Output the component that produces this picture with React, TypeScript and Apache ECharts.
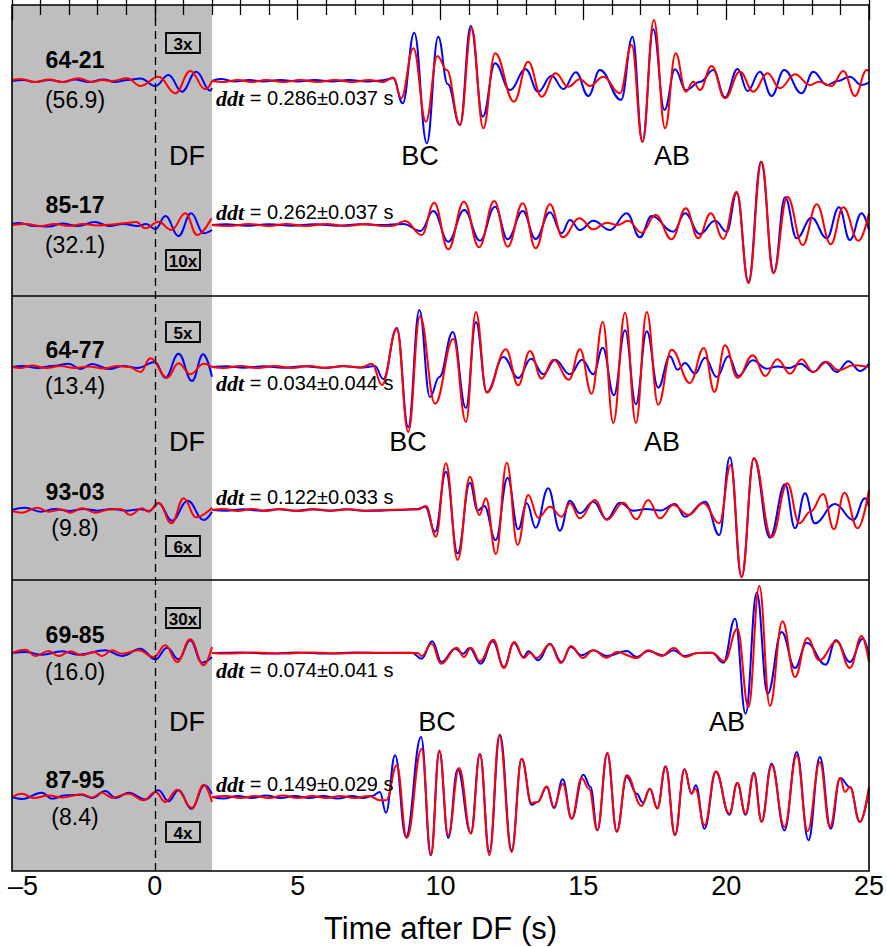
import React, { useEffect, useRef } from 'react';
import * as echarts from 'echarts';

// ---------- labels ----------
const traceNames = ['64-21', '85-17', '64-77', '93-03', '69-85', '87-95'];
const traceDistances = ['(56.9)', '(32.1)', '(13.4)', '(9.8)', '(16.0)', '(8.4)'];
const gains = ['3x', '10x', '5x', '6x', '30x', '4x'];
const ddtValues = ['0.286±0.037', '0.262±0.037', '0.034±0.044', '0.122±0.033', '0.074±0.041', '0.149±0.029'];
const phaseLabels = ['DF', 'BC', 'AB'];
const xAxisTitle = 'Time after DF (s)';

// ---------- waveforms: [time (s), amplitude (px, up positive)] ----------
// trace 1: 64-21
const t1DfBlue = [[-5, 0], [-4.6, 1], [-4.2, -1], [-3.7, 1], [-3.2, -1], [-2.8, 1.5], [-2.3, -1], [-1.8, 1.5], [-1.4, -1], [-0.95, 1], [-0.5, 2.5], [0.02, -5], [0.48, 6], [0.95, -10.7], [1.45, 9.3], [1.94, -9.7], [2.0, -7]];
const t1DfRed = [[-5, 1], [-4.7, 2], [-4.2, -1], [-3.7, 1.5], [-3.25, -1], [-2.67, 2.7], [-2.2, -1], [-1.85, 1], [-1.5, 0], [-0.97, 2.7], [-0.5, -5], [0.13, 4.3], [0.72, -12.3], [1.24, 10], [1.77, -8.3], [2.0, 0]];
const t1Blue = [[2.0, 0], [2.3, 2], [2.8, -0.5], [3.3, 1], [3.8, -0.5], [4.4, 1], [5, -0.5], [5.6, 1], [6.2, -0.5], [6.8, 1], [7.4, -0.5], [7.9, 0.5], [8.35, 2.7], [8.675, -22.3], [9.08, 48.3], [9.52, -62.3], [9.92, 44.3], [10.25, -3], [10.68, -44], [11.06, 55], [11.48, -35.7], [11.91, 17.7], [12.43, -9], [12.98, 11.7], [13.42, -10.7], [13.89, 5.3], [14.3, -8], [14.74, 8.7], [15.175, -15], [15.58, 11], [16.32, -19], [16.72, 44.3], [17.07, -60.7], [17.45, 51.7], [17.84, -29], [18.21, 11.7], [18.59, -9], [19.1, -0.7], [19.55, 11], [19.96, -16.3], [20.4, 12], [20.75, -10], [21.18, 9.3], [21.59, -15], [22.03, 11], [22.64, -12.3], [23.05, 9.3], [23.52, -4], [23.9, 0], [24.33, 4.3], [24.74, -4], [25, -1.3]];
const t1Red = [[2.0, 0], [2.4, -1], [2.9, 1], [3.4, -1], [3.9, 1], [4.5, -1], [5.1, 1], [5.7, -1], [6.3, 1], [6.9, -1], [7.5, 1], [8.0, -1], [8.35, 3.5], [8.62, -17.3], [9.05, 32.7], [9.49, -40.7], [9.89, 25], [10.22, 11], [10.68, -44], [11.09, 52.7], [11.5, -47.3], [11.91, 27.7], [12.57, -20.7], [13.07, 19.3], [13.54, -15.7], [14.03, 7.7], [14.47, -5.7], [14.88, 1.7], [15.23, -5], [15.7, 4.3], [16.28, -12.3], [16.69, 36], [17.07, -60.7], [17.47, 61], [17.86, -47.3], [18.23, 27.7], [18.59, -10.7], [18.85, -0.7], [19.08, -9], [19.49, 15], [19.96, -17.3], [20.48, 9.3], [20.95, -10.7], [21.45, 7.7], [21.88, -7.3], [22.41, 6.7], [22.93, -4], [23.25, -0.7], [23.69, -5], [24.1, 10], [24.51, -15], [24.92, 11], [25, 10]];

// trace 2: 85-17
const t2DfBlue = [[-5, 1], [-4.75, 2], [-4.2, -1], [-3.7, -1.5], [-3.25, 1.5], [-2.7, -1], [-2.1, 3], [-1.6, -1], [-1.1, 1], [-0.6, -1], [-0.3, 1], [0.02, -4.3], [0.37, 9], [0.83, -11], [1.27, 11.7], [1.71, -8.3], [2.0, -5]];
const t2DfRed = [[-5, 0], [-4.5, 1], [-4.0, -1], [-3.5, 1], [-3.0, -1], [-2.5, 1], [-2.0, -0.5], [-1.5, 0.5], [-1.0, 2], [-0.65, 3], [-0.33, -3.3], [0.13, 3.3], [0.58, -5], [1.07, 11.7], [1.48, -10], [1.98, 6.7]];
const t2Blue = [[2, 0], [2.5, 0.7], [3.2, -0.7], [4, 0.7], [4.8, -0.7], [5.6, 0.7], [6.4, -0.7], [7.2, 0.7], [7.9, 0], [8.7, 1], [9.3, -6], [9.75, 14], [10.27, -16.7], [10.83, 15], [11.38, -15.7], [11.91, 18.3], [12.35, -14.3], [12.88, 14], [13.33, -14], [13.83, 12.7], [14.24, -8.3], [14.53, 5], [14.88, -5], [15.35, 4.3], [15.93, -5], [16.52, 11.7], [16.98, -12.3], [17.39, 9], [18.15, -6.7], [18.56, 11.7], [19.08, -9], [19.61, 4.3], [20.02, -6.7], [20.37, 32.3], [20.78, -56.7], [21.22, 63.3], [21.67, -47.7], [22.06, 27.7], [22.47, -13.3], [22.99, 7.3], [23.52, -13.3], [23.95, 17.7], [24.33, -15], [24.74, 11.7], [25, -5]];
const t2Red = [[2, 0], [2.6, -1], [3.3, 1], [4, -1], [4.6, 1], [5.3, -1], [6, 1], [6.7, -1], [7.4, 1], [8.0, -1], [8.3, -1], [8.76, 4], [9.34, -10], [9.78, 22.3], [10.27, -24.3], [10.82, 23.3], [11.35, -22.3], [11.88, 24], [12.35, -21.7], [12.88, 21.7], [13.33, -23.3], [13.83, 20.7], [14.28, -12.3], [14.86, 6.7], [15.35, -4.3], [15.82, 2.3], [16.2, 0], [16.57, 4.3], [17.04, -7.7], [17.53, 10], [18.09, -14.3], [18.59, 16.7], [19.02, -13.3], [19.46, 11.7], [19.9, -14], [20.37, 33.3], [20.78, -58.3], [21.24, 63.3], [21.65, -48.3], [22.14, 28.3], [22.68, -20], [23.17, 20.7], [23.66, -19.3], [24.1, 17.7], [24.63, -15.7], [25, 11.7]];

// trace 3: 64-77
const t3DfBlue = [[-5, 0], [-4.6, 1], [-4.1, -1], [-3.6, 1], [-3.02, 3.3], [-2.6, -2], [-2.2, 3], [-1.6, -2], [-1.1, 1], [-0.6, -1], [0.0, 5], [0.37, -10.7], [0.83, 13.3], [1.3, -14], [1.69, 12.7], [2.0, -9.7]];
const t3DfRed = [[-5, 0], [-4.7, -1], [-4.3, 1.5], [-3.8, -1], [-3.3, 1], [-2.8, -1], [-2.3, 0.5], [-1.8, -1.5], [-1.3, 1], [-0.9, 0], [-0.5, -5], [-0.16, 8.7], [0.43, -10.7], [0.83, 3.7], [1.24, -7.3], [1.71, 3.3], [2.0, 0]];
const t3Blue = [[2, 0], [2.5, 0.7], [3.1, -0.7], [3.8, 0.7], [4.5, -0.7], [5.2, 0.7], [5.9, -0.7], [6.6, 0.7], [7.3, -0.5], [7.7, 1], [8.0, -12], [8.47, 39], [8.87, -60], [9.26, 57], [9.63, -30], [9.96, -10], [10.43, 35], [10.89, -41], [11.24, 45], [11.62, -25], [12.2, 10], [12.72, -11], [13.17, 8.3], [13.6, -7.3], [14.01, 7.3], [14.53, -7.3], [14.96, 7.3], [15.35, -7.3], [15.68, 19.3], [16.07, -28.3], [16.46, 36.7], [16.84, -37.3], [17.22, 35.7], [17.62, -20.7], [18.03, 10.7], [18.3, -2.7], [18.56, 4], [18.91, -6.7], [19.26, 9.3], [19.67, -10], [20.08, 10.7], [20.43, -9], [20.93, 6.7], [21.42, -1.7], [21.8, 0.5], [22.2, -1], [22.6, 3.3], [23.05, -5], [23.46, 5], [23.87, -5], [24.28, 5.7], [24.69, -4], [25, 3.3]];
const t3Red = [[2, 0], [2.4, -1], [3, 1], [3.6, -1], [4.2, 1], [4.8, -1], [5.4, 1], [6, -1], [6.6, 1], [7.2, -0.5], [7.6, 3.3], [7.95, -18], [8.47, 38], [8.87, -65], [9.28, 50.7], [9.81, -36.7], [10.45, 28.3], [10.89, -55], [11.24, 55], [11.62, -25.7], [12.29, 17.7], [12.72, -18.3], [13.13, 16], [13.54, -11.7], [13.95, 7.3], [14.5, -12.7], [14.88, 17.7], [15.29, -26.7], [15.68, 45], [16.05, -56], [16.46, 54.3], [16.84, -56], [17.22, 55], [17.62, -37.7], [18.09, 17.3], [18.73, -16], [19.22, 19], [19.59, -25], [19.96, 21.7], [20.4, -10.7], [20.93, 11.7], [21.37, -9], [21.79, 7.7], [22.24, -6.7], [22.64, 7.7], [23.05, -5], [23.52, 5], [23.93, -3.3], [24.45, 1.7], [25, 0]];

// trace 4: 93-03
const t4DfBlue = [[-5, 0], [-4.55, 2.3], [-4.0, -1.7], [-3.5, 1], [-3.0, -1], [-2.5, 1], [-2.0, -0.7], [-1.5, 1], [-1.0, -0.7], [-0.5, 0.7], [-0.2, -1], [0.13, 6.7], [0.6, -10.7], [1.15, 9.3], [1.71, -10], [2.0, -1.7]];
const t4DfRed = [[-5, -1], [-4.65, -2.7], [-4.12, 2.3], [-3.72, -1.7], [-3.25, 0.5], [-2.96, -2.7], [-2.55, 1.7], [-2.08, -2.7], [-1.6, 0.5], [-1.2, 1], [-0.86, -5], [-0.45, 1.7], [-0.22, -1.7], [0.13, 7.3], [0.58, -13.3], [1.01, 11.7], [1.44, -7.3], [2.0, 2.3]];
const t4Blue = [[2, 0], [2.5, -0.7], [3.1, 0.7], [3.7, -0.7], [4.3, 0.7], [4.9, -0.7], [5.5, 0.7], [6.1, -0.7], [6.7, 0.7], [7.3, -0.7], [7.9, -0.7], [8.5, 0], [9.2, 1], [9.46, 3.3], [9.81, -21.7], [10.19, 38.3], [10.6, -43.3], [11.03, 27.3], [11.3, -0.5], [11.53, 4], [11.93, -30], [12.35, 32.3], [12.72, -19.3], [13.02, 6.7], [13.33, -17.7], [13.77, 21.7], [14.18, -20.7], [14.53, 9.3], [14.88, -3.3], [15.35, 8.3], [15.82, -9.3], [16.28, 7.3], [16.75, -0.7], [17.2, 1], [17.7, -0.5], [18.21, 6], [18.56, -6.7], [19.26, 8.3], [19.76, -25], [20.13, 52.7], [20.54, -66.7], [20.97, 51.7], [21.53, -27.7], [22.06, 25.7], [22.41, -18.3], [22.76, 16.7], [23.1, -13.3], [23.81, 6], [24.45, -10], [24.86, 11.7], [25, 3.3]];
const t4Red = [[2, 0], [2.4, 1], [2.9, -1], [3.4, 1], [3.9, -1], [4.4, 1], [5, -1], [5.6, 0.7], [6.2, -0.7], [6.8, 0.7], [7.4, -0.7], [8, 0], [8.8, 0.5], [9.2, 0.5], [9.49, 4], [9.84, -26.7], [10.19, 46.7], [10.6, -50], [11.03, 33.3], [11.36, -5], [11.59, 11.7], [11.94, -44], [12.32, 47.3], [12.7, -35], [13.07, 15], [13.42, -7.7], [13.83, 3.3], [14.24, -6.7], [14.53, 6.7], [14.88, -8.3], [15.41, 10], [15.82, -10], [16.4, 7.3], [16.86, -9.3], [17.27, 10], [17.68, -8.3], [18.15, 5], [18.68, -5], [19.2, 6.7], [19.76, -13.3], [20.16, 45], [20.54, -67.3], [20.97, 51.7], [21.59, -27.3], [22.14, 26.7], [22.56, -13.3], [22.95, -1.7], [23.4, 16], [23.77, -19.3], [24.14, 17.3], [24.6, -18.3], [25, 20]];

// trace 5: 69-85
const t5DfBlue = [[-5, 0], [-4.53, 1], [-3.95, -1.7], [-3.25, 1.7], [-2.67, -1.7], [-1.73, 2.7], [-1.15, -3], [-0.51, 4.3], [0.02, -6.3], [0.43, 5.3], [0.83, -6.3], [1.24, 12.7], [1.65, -9.7], [2.0, -4]];
const t5DfRed = [[-5, 0], [-4.53, 3.3], [-4.18, -3], [-3.72, 2], [-3.37, -3], [-2.96, 1.7], [-2.55, -2.3], [-2.14, 1], [-1.85, -3], [-1.5, 2.7], [-1.15, -0.7], [-0.57, 2.7], [-0.04, -4], [0.37, 7.7], [0.78, -9], [1.24, 13.7], [1.71, -12.3], [2.0, 6]];
const t5Blue = [[2, 0], [3, 0.5], [4, -0.5], [5, 0.5], [6, -0.5], [7, 0.5], [8, 0], [9.0, 0.3], [9.34, -5.7], [9.71, 11.7], [10.04, -9], [10.51, 4.3], [10.8, -0.7], [11.01, 5], [11.41, -10.7], [11.83, 11.7], [12.22, -14], [12.57, 10], [12.9, -4], [13.08, 1.7], [13.42, -7.3], [13.83, 9.3], [14.24, -9], [14.56, 6], [14.94, -2.3], [15.35, 2.7], [15.82, -3], [16.52, 2], [16.87, -4], [17.27, 2], [17.8, -2.3], [18.15, 2.7], [18.56, -3], [19.0, 0], [19.5, 0.3], [19.9, -9.7], [20.31, 34.3], [20.68, -60.7], [21.07, 60.3], [21.45, -40.7], [21.94, 21], [22.41, -15], [22.82, 10.3], [23.48, -11.7], [23.84, 12.7], [24.33, -9], [24.78, 14.3], [25, -2.3]];
const t5Red = [[2, 0], [2.5, -0.5], [3.5, 0.5], [4.5, -0.5], [5.5, 0.5], [6.5, -0.5], [7.5, 0.3], [8.5, 0], [9.2, 0], [9.34, -3], [9.69, 9.3], [10.02, -10.7], [10.57, 5.3], [10.82, -4], [11.06, 5.3], [11.38, -8.3], [11.85, 13.3], [12.22, -15], [12.58, 11], [12.92, -5], [13.13, 0.3], [13.36, -5], [13.83, 8.7], [14.22, -10], [14.57, 7], [14.98, -5], [15.35, 2.7], [15.82, -4.7], [16.17, 1], [16.87, -5], [17.27, 2.7], [17.74, -3], [18.17, 5], [18.56, -4], [19.0, 0], [19.5, 0.3], [19.94, -8.3], [20.39, 24.3], [20.78, -54], [21.16, 67], [21.53, -53], [21.97, 31.7], [22.41, -24], [22.84, 15], [23.26, -7.3], [23.87, 11.7], [24.33, -15], [24.74, 17], [25, -9]];

// trace 6: 87-95
const t6DfBlue = [[-5, 0], [-4.65, -2], [-3.95, 4.3], [-3.6, -1.7], [-3.13, 1.7], [-2.55, 2.3], [-2.2, -1], [-1.73, 6], [-1.38, -1], [-0.92, 4.3], [-0.33, -2.3], [0.13, 6.7], [0.48, -4.3], [0.83, 6.7], [1.28, -11.7], [1.74, 11.7], [2.0, 3]];
const t6DfRed = [[-5, 0], [-4.65, 3.3], [-4.24, -1], [-3.72, 1.5], [-3.25, -0.5], [-2.55, 2.7], [-2.2, -0.5], [-1.85, 4.3], [-1.5, -0.7], [-0.92, 3.3], [-0.39, -3.3], [0.02, 5], [0.37, -5], [0.78, 7.3], [1.3, -11], [1.71, 12.3], [2.0, -5]];
const t6Blue = [[2, 0], [2.4, -1.5], [2.9, 1], [3.4, -1], [3.9, 1.5], [4.4, -1], [4.9, 1], [5.4, -1], [5.9, 1], [6.4, -1.5], [6.9, 1], [7.3, -1], [7.6, 1], [7.88, 5], [8.09, -15.7], [8.41, 41.7], [8.79, -40], [9.32, 60], [9.66, -58.3], [9.96, 45.7], [10.27, -41], [10.6, 27.7], [11.06, -36], [11.38, 43.3], [11.71, -55], [12.08, 62.3], [12.49, -53.3], [12.84, 38.3], [13.19, -7.7], [13.4, -5], [13.72, 10], [13.97, -11], [14.28, 17.7], [14.59, -21.7], [15.0, 22.3], [15.25, 10], [15.49, -33.3], [15.84, 43.3], [16.17, -34.3], [16.52, 20], [16.87, 3.3], [17.08, -5.7], [17.33, 8.3], [17.59, -11], [17.88, 30.7], [18.21, -37.7], [18.54, 27.7], [18.79, 3.3], [18.94, 11.7], [19.24, -31.7], [19.64, 25], [20.11, -17.7], [20.39, 14], [20.68, -17.7], [20.97, 24.3], [21.24, -24.3], [21.59, 33.3], [22.04, -33.3], [22.47, 45], [22.88, -43.3], [23.28, 40], [23.66, -31.7], [23.99, 19], [24.33, 10], [24.68, -25], [25, 8.3]];
const t6Red = [[2, 0], [2.5, 1], [3, -1], [3.5, 1], [4, -1], [4.5, 1.5], [5, -1], [5.5, 1], [6, -1], [6.5, 1], [7, -1], [7.5, 1], [7.88, -3.3], [8.1, -3.3], [8.47, 31.7], [8.82, -41], [9.34, 48.3], [9.67, -57.7], [9.96, 46.7], [10.27, -38.3], [10.65, 29], [11.07, -36.7], [11.38, 42.7], [11.71, -58.3], [12.06, 61.7], [12.49, -55], [12.84, 38.3], [13.19, -6], [13.4, -5], [13.72, 10.7], [13.97, -10], [14.28, 13.3], [14.59, -21.7], [14.94, 19], [15.2, 8], [15.49, -33.3], [15.84, 44.3], [16.17, -35], [16.52, 21.7], [17.04, -9], [17.33, 8.3], [17.59, -11.7], [17.88, 30], [18.21, -38.3], [18.54, 27.7], [18.79, 3.3], [18.92, 8.3], [19.24, -28.3], [19.64, 25.7], [20.11, -16.7], [20.39, 14], [20.68, -16.7], [20.97, 23.3], [21.24, -25], [21.59, 31.7], [22.04, -30], [22.47, 41.7], [22.85, -34.3], [23.28, 35], [23.63, -30], [23.99, 19], [24.16, 5], [24.33, 10], [24.68, -25], [25, 10]];

const traces = [
  [t1DfBlue, t1DfRed, t1Blue, t1Red],
  [t2DfBlue, t2DfRed, t2Blue, t2Red],
  [t3DfBlue, t3DfRed, t3Blue, t3Red],
  [t4DfBlue, t4DfRed, t4Blue, t4Red],
  [t5DfBlue, t5DfRed, t5Blue, t5Red],
  [t6DfBlue, t6DfRed, t6Blue, t6Red],
];

// ---------- layout (pixels) ----------
const W = 887;
const H = 947;
const G = { left: 12, top: 5, width: 857, height: 866 };
const BASE = [76, 220, 362, 505, 648, 792]; // trace baselines, px below grid top
const SEPARATORS = [291, 575];
const NAME_Y = [60, 205, 350, 492, 635, 780];
const DIST_Y = [100, 245, 386, 528, 672, 817];
const BOX_Y = [43, 260, 332, 546, 618, 832];
const DDT_Y = [98, 212, 383, 497, 670, 784];
const PANEL_LABEL_Y = [156, 442, 722];
const BC_X = [420, 408, 437];
const AB_X = [672, 662, 727];

const SANS = '"Liberation Sans", Arial, Helvetica, sans-serif';
const SERIF = '"Liberation Serif", "Times New Roman", serif';
const BLUE = '#0000ff';
const RED = '#ff0000';

export default function App() {
  const ref = useRef<HTMLDivElement>(null);
  useEffect(() => {
    document.body.style.margin = '0';
    const chart = echarts.init(ref.current!, null, { renderer: 'svg' });

    const series: any[] = [];
    traces.forEach((group, i) => {
      const base = BASE[i];
      group.forEach((arr, j) => {
        const color = j % 2 === 0 ? BLUE : RED;
        const s: any = {
          type: 'line',
          data: arr.map(([t, a]) => [t, base - a]),
          symbol: 'none',
          showSymbol: false,
          smooth: 0.42,
          smoothMonotone: 'x',
          silent: true,
          z: 3 + (j % 2),
          lineStyle: { color, width: 2 },
        };
        if (i === 0 && j === 0) {
          s.markArea = {
            silent: true,
            itemStyle: { color: '#bebebe' },
            label: { show: false },
            data: [[{ xAxis: -5 }, { xAxis: 2 }]],
          };
          s.markLine = {
            silent: true,
            symbol: ['none', 'none'],
            label: { show: false },
            lineStyle: { color: '#000', width: 1.5, type: 'solid' },
            data: [
              { xAxis: 0, lineStyle: { color: '#000', width: 1.3, type: [8, 5] } },
              ...SEPARATORS.map((y) => ({ yAxis: y })),
            ],
          };
        }
        series.push(s);
      });
    });

    const graphics: any[] = [];
    graphics.push({
      type: 'rect',
      z: 100,
      silent: true,
      shape: { x: G.left, y: G.top, width: G.width, height: G.height },
      style: { fill: 'none', stroke: '#000', lineWidth: 1.6 },
    });
    traceNames.forEach((nm, i) => {
      graphics.push({
        type: 'text', z: 50, x: 75, y: NAME_Y[i],
        style: { text: nm, font: `bold 23px ${SANS}`, fill: '#000', align: 'center', verticalAlign: 'middle' },
      });
      graphics.push({
        type: 'text', z: 50, x: 75, y: DIST_Y[i],
        style: { text: traceDistances[i], font: `23px ${SANS}`, fill: '#000', align: 'center', verticalAlign: 'middle' },
      });
      graphics.push({
        type: 'rect', z: 50,
        shape: { x: 166, y: BOX_Y[i] - 10, width: 34, height: 20 },
        style: { fill: 'none', stroke: '#000', lineWidth: 1.8 },
      });
      graphics.push({
        type: 'text', z: 50, x: 183, y: BOX_Y[i] + 1,
        style: { text: gains[i], font: `bold 17px ${SANS}`, fill: '#000', align: 'center', verticalAlign: 'middle' },
      });
      graphics.push({
        type: 'text', z: 50, x: 216, y: DDT_Y[i],
        style: {
          text: `{d|ddt} = ${ddtValues[i]} s`,
          font: `20px ${SANS}`,
          fill: '#000',
          align: 'left',
          verticalAlign: 'middle',
          rich: { d: { font: `bold italic 22px ${SERIF}`, fill: '#000' } },
        },
      });
    });
    PANEL_LABEL_Y.forEach((y, k) => {
      const items: [string, number][] = [[phaseLabels[0], 187], [phaseLabels[1], BC_X[k]], [phaseLabels[2], AB_X[k]]];
      items.forEach(([txt, x]) => {
        graphics.push({
          type: 'text', z: 50, x, y,
          style: { text: txt, font: `27px ${SANS}`, fill: '#000', align: 'center', verticalAlign: 'middle' },
        });
      });
    });

    const tickCommon = {
      axisLine: { show: false },
      axisTick: { show: true, inside: true, length: 15, lineStyle: { color: '#000', width: 1.3 } },
      minorTick: { show: true, splitNumber: 5, length: 10, lineStyle: { color: '#000', width: 1.3 } },
      splitLine: { show: false },
      minorSplitLine: { show: false },
    };

    chart.setOption({
      animation: false,
      backgroundColor: '#ffffff',
      grid: {
        left: G.left, top: G.top, width: G.width, height: G.height,
        containLabel: false, outerBoundsMode: 'none',
      },
      xAxis: [
        {
          type: 'value', min: -5, max: 25, interval: 5, position: 'bottom', z: 10,
          ...tickCommon,
          axisLabel: {
            color: '#000', fontSize: 27, fontFamily: SANS, margin: 1,
            formatter: (v: number) => (v < 0 ? `{l|–${Math.abs(v)}}` : `${v}`),
            rich: { l: { fontSize: 27, fontFamily: SANS, color: '#000', padding: [0, 0, 0, 22] } },
          },
          name: xAxisTitle,
          nameLocation: 'middle',
          nameGap: 42,
          nameTextStyle: { color: '#000', fontSize: 31, fontFamily: SANS },
        },
        {
          type: 'value', min: -5, max: 25, interval: 5, position: 'top', z: 10,
          ...tickCommon,
          axisLabel: { show: false },
        },
      ],
      yAxis: { type: 'value', min: 0, max: G.height, interval: G.height, inverse: true, show: false },
      series,
      graphic: { elements: graphics },
    });

    return () => chart.dispose();
  }, []);

  return <div ref={ref} style={{ width: W, height: H }} />;
}
